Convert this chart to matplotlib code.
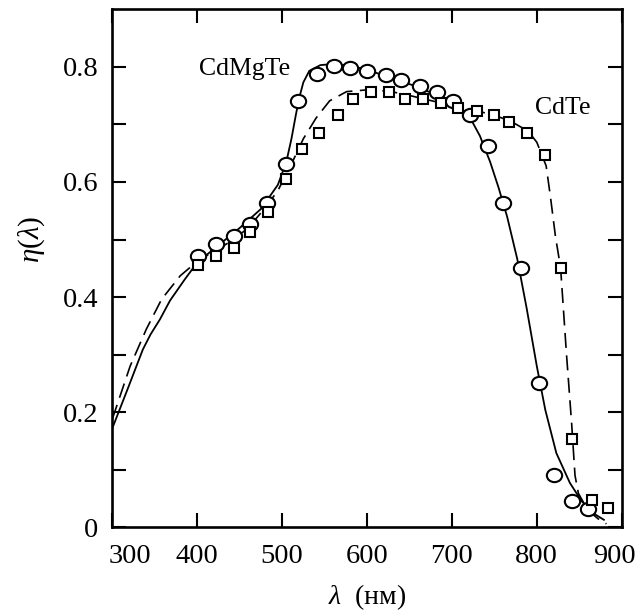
import matplotlib
matplotlib.use("Agg")
import matplotlib.pyplot as plt
from matplotlib import font_manager
from matplotlib.path import Path
from matplotlib.markers import MarkerStyle
from matplotlib.transforms import Affine2D, ScaledTranslation

names = sorted({f.name for f in font_manager.fontManager.ttflist})
serif = None
for cand in ['Liberation Serif', 'Times New Roman', 'Tinos', 'Nimbus Roman', 'DejaVu Serif']:
    if cand in names:
        serif = cand
        break
plt.rcParams['font.family'] = [serif, 'DejaVu Serif']
plt.rcParams['mathtext.fontset'] = 'custom'
plt.rcParams['mathtext.rm'] = serif
plt.rcParams['mathtext.it'] = serif + ':italic'

# Measured points
cdmgte_x = [401, 422, 443, 462, 482, 504, 519, 541, 561, 580, 600, 622, 640, 662,
            682, 701, 721, 742, 760, 781, 802, 820, 841, 860]
cdmgte_y = [0.471, 0.492, 0.506, 0.527, 0.563, 0.631, 0.741, 0.788, 0.802, 0.798,
            0.792, 0.785, 0.778, 0.767, 0.756, 0.741, 0.717, 0.662, 0.563, 0.450,
            0.250, 0.090, 0.046, 0.032]

cdte_x = [401, 422, 443, 462, 483, 504, 524, 544, 566, 584, 605, 626, 645, 666,
          687, 707, 729, 749, 767, 788, 810, 828, 841, 865, 884]
cdte_y = [0.455, 0.472, 0.486, 0.513, 0.547, 0.606, 0.658, 0.685, 0.716, 0.744,
          0.757, 0.757, 0.744, 0.744, 0.737, 0.728, 0.724, 0.717, 0.705, 0.685,
          0.646, 0.451, 0.154, 0.048, 0.033]

# Calculated curves
fit_cdmgte_x = [300, 318, 336, 345, 356, 368, 385, 400, 425, 450, 475, 495, 505, 511,
                516, 520, 525, 532, 545, 560, 580, 600, 620, 640, 660, 680, 700, 712,
                722, 733, 745, 755, 765, 777, 788, 800, 810, 823, 839, 853, 867, 879]
fit_cdmgte_y = [0.172, 0.240, 0.309, 0.335, 0.361, 0.394, 0.430, 0.460, 0.490, 0.520,
                0.553, 0.595, 0.635, 0.675, 0.715, 0.745, 0.773, 0.793, 0.803, 0.805,
                0.802, 0.795, 0.785, 0.775, 0.765, 0.752, 0.738, 0.727, 0.710, 0.680,
                0.635, 0.590, 0.540, 0.466, 0.381, 0.280, 0.204, 0.129, 0.077, 0.045,
                0.024, 0.013]

fit_cdte_x = [300, 321, 340, 358, 380, 400, 420, 440, 460, 480, 495, 510, 525,
              540, 556, 576, 600, 625, 645, 665, 685, 705, 728, 750, 770, 790, 800,
              811, 816, 822, 828, 835, 841, 845, 849, 860, 872, 882]
fit_cdte_y = [0.188, 0.280, 0.344, 0.396, 0.437, 0.462, 0.480, 0.497, 0.520,
              0.555, 0.585, 0.628, 0.675, 0.711, 0.741, 0.757, 0.760, 0.758, 0.752,
              0.745, 0.738, 0.730, 0.724, 0.716, 0.705, 0.688, 0.669, 0.628, 0.575,
              0.505, 0.451, 0.300, 0.181, 0.090, 0.059, 0.030, 0.015, 0.006]

x_ticks = [300, 400, 500, 600, 700, 800, 900]
y_ticks = [0, 0.1, 0.2, 0.3, 0.4, 0.5, 0.6, 0.7, 0.8]
y_labels = ['0', '', '0.2', '', '0.4', '', '0.6', '', '0.8']

fig = plt.figure(figsize=(6.41, 6.12), dpi=100)
ax = fig.add_axes([0.1752, 0.1384, 0.7947, 0.8464])

ax.plot(fit_cdmgte_x, fit_cdmgte_y, color='black', lw=1.3, zorder=2)
ax.plot(fit_cdte_x, fit_cdte_y, color='black', lw=1.2, dashes=(9, 4.5), zorder=2)

ell = Path.unit_circle().transformed(Affine2D().scale(1.15, 1.0))
ax.plot(cdmgte_x, cdmgte_y, linestyle='none', marker=MarkerStyle(ell), markersize=11,
        markerfacecolor='white', markeredgecolor='black', markeredgewidth=1.5, zorder=3)
ax.plot(cdte_x, cdte_y, linestyle='none', marker='s', markersize=7.8,
        markerfacecolor='white', markeredgecolor='black', markeredgewidth=1.5, zorder=4)

ax.text(456, 0.797, 'CdMgTe', fontsize=18.5, ha='center', va='center')
ax.text(831, 0.7285, 'CdTe', fontsize=18.5, ha='center', va='center')

ax.set_xlim(300, 900)
ax.set_ylim(0, 0.9)
ax.set_xticks(x_ticks)
ax.set_yticks(y_ticks)
ax.set_yticklabels(y_labels)

ax.tick_params(direction='in', length=10, width=1.5, top=True, right=True,
               labelsize=20.5)
ax.tick_params(axis='x', pad=12)
ax.tick_params(axis='y', pad=10)
for s in ax.spines.values():
    s.set_linewidth(1.9)

# shift edge tick labels inward like the reference
xl = ax.get_xticklabels()
xl[0].set_transform(xl[0].get_transform() + ScaledTranslation(18 / 100, 0, fig.dpi_scale_trans))
xl[-1].set_transform(xl[-1].get_transform() + ScaledTranslation(-7 / 100, 0, fig.dpi_scale_trans))

ax.set_xlabel(r'$\lambda$  (нм)', fontsize=20)
ax.set_ylabel(r'$\eta(\lambda)$', fontsize=21)
ax.xaxis.set_label_coords(0.5, -0.107)
ax.yaxis.set_label_coords(-0.128, 0.555)

fig.savefig('out.png', dpi=100)
